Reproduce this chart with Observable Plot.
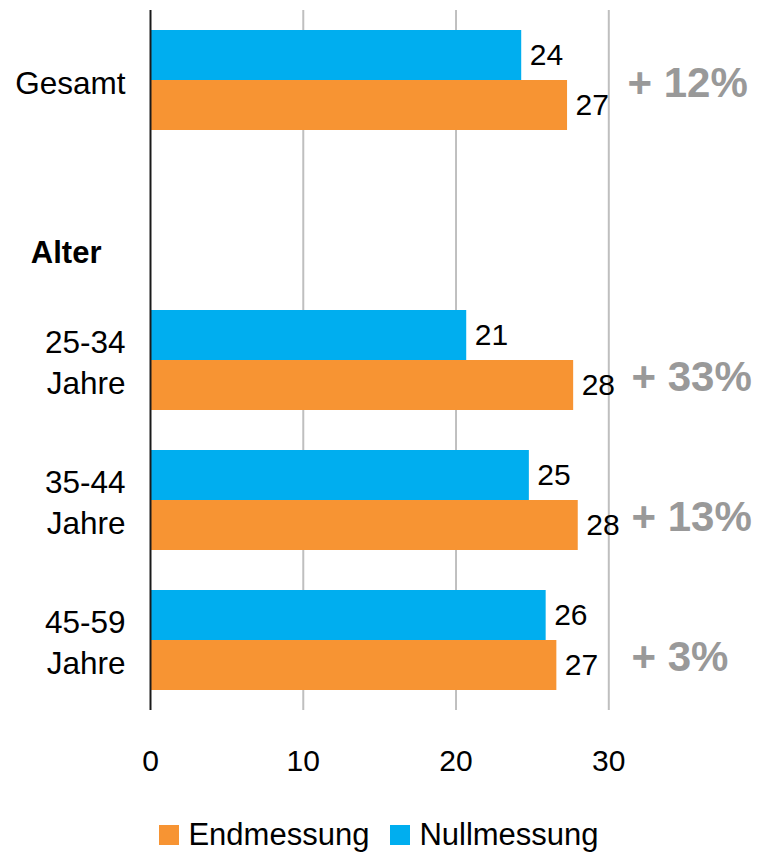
<!DOCTYPE html>
<html><head><meta charset="utf-8">
<script src="https://cdn.jsdelivr.net/npm/d3@7"></script>
<script src="https://cdn.jsdelivr.net/npm/@observablehq/plot@0.6"></script>
<style>
body{margin:0;background:#fff;font-family:"Liberation Sans",Arial,sans-serif}
#legend{display:flex;justify-content:center;align-items:center;gap:21px;padding-top:18px;font-size:31px;line-height:34px;color:#000}
#legend .item{display:flex;align-items:center;gap:9px}
#legend .sw{width:20px;height:20px;display:inline-block}
</style>
</head><body><div id="chart"></div><div id="legend"></div><script>
// ---- data ----
const categories = ["Gesamt", "Alter", "25-34 Jahre", "35-44 Jahre", "45-59 Jahre"];
const categoryLabels = ["Gesamt", "Alter", "25-34\nJahre", "35-44\nJahre", "45-59\nJahre"];
const groups = ["Gesamt", "25-34 Jahre", "35-44 Jahre", "45-59 Jahre"];
const series = ["Endmessung", "Nullmessung"];
const nullmessung = [24.3, 20.7, 24.8, 25.9];
const endmessung = [27.3, 27.7, 28.0, 26.6];
const changeLabels = ["+ 12%", "+ 33%", "+ 13%", "+ 3%"];
const xTicks = [0, 10, 20, 30];
const colors = ["#F79433", "#00AEEF"];

// ---- tables ----
const rows = groups.flatMap((g, i) => [
  {category: g, series: "Nullmessung", value: nullmessung[i]},
  {category: g, series: "Endmessung", value: endmessung[i]}
]);
const labelRows = categories.map((c, i) => ({category: c, label: categoryLabels[i]}));
const changeRows = groups.map((g, i) => ({category: g, label: changeLabels[i]}));

const font = '"Liberation Sans", Arial, sans-serif';
const chart = Plot.plot({
  width: 758, height: 800,
  marginLeft: 150, marginRight: 0, marginTop: 10, marginBottom: 90,
  style: {fontFamily: font, fontSize: "29px", color: "#000", background: "#fff", overflow: "visible"},
  x: {domain: [0, 39.8], axis: null},
  y: {domain: ["Nullmessung", "Endmessung"], paddingInner: 0, paddingOuter: 0.4, axis: null},
  fy: {domain: categories, padding: 0, axis: null},
  color: {domain: series, range: colors},
  marks: [
    Plot.gridX(xTicks.filter(t => t > 0), {stroke: "#BFBFBF", strokeOpacity: 1, strokeWidth: 2}),
    Plot.barX(rows, {x: "value", y: "series", fy: "category", fill: "series"}),
    Plot.ruleX([0], {stroke: "#1a1a1a", strokeWidth: 2}),
    Plot.axisX(xTicks, {tickSize: 0, tickPadding: 39, fontSize: 30, label: null}),
    Plot.text(labelRows, {filter: d => d.category !== "Alter", fy: "category", text: "label",
      frameAnchor: "left", textAnchor: "end", dx: -25, lineHeight: 1.3, fontSize: 31.5, fill: "#000"}),
    Plot.text(labelRows, {filter: d => d.category === "Alter", fy: "category", text: "label",
      frameAnchor: "left", textAnchor: "end", dx: -49, dy: 33, fontSize: 31, fontWeight: "bold", fill: "#000"}),
    Plot.text(rows, {x: "value", y: "series", fy: "category", text: d => String(Math.round(d.value)),
      textAnchor: "start", dx: 8, fontSize: 30, fill: "#000"}),
    Plot.text(changeRows, {filter: d => d.category === "Gesamt", fy: "category", text: "label",
      frameAnchor: "right", textAnchor: "start", dx: -131, dy: 3, fontSize: 42, fontWeight: "bold", fill: "#999999"}),
    Plot.text(changeRows, {filter: d => d.category !== "Gesamt", fy: "category", y: () => "Endmessung", text: "label",
      frameAnchor: "right", textAnchor: "start", dx: -127, dy: -8, fontSize: 42, fontWeight: "bold", fill: "#999999"})
  ]
});
document.getElementById("chart").appendChild(chart);

const legend = document.getElementById("legend");
series.forEach((s, i) => {
  const item = document.createElement("div");
  item.className = "item";
  const sw = document.createElement("span");
  sw.className = "sw";
  sw.style.background = colors[i];
  const t = document.createElement("span");
  t.textContent = s;
  item.appendChild(sw); item.appendChild(t);
  legend.appendChild(item);
});
</script></body></html>
